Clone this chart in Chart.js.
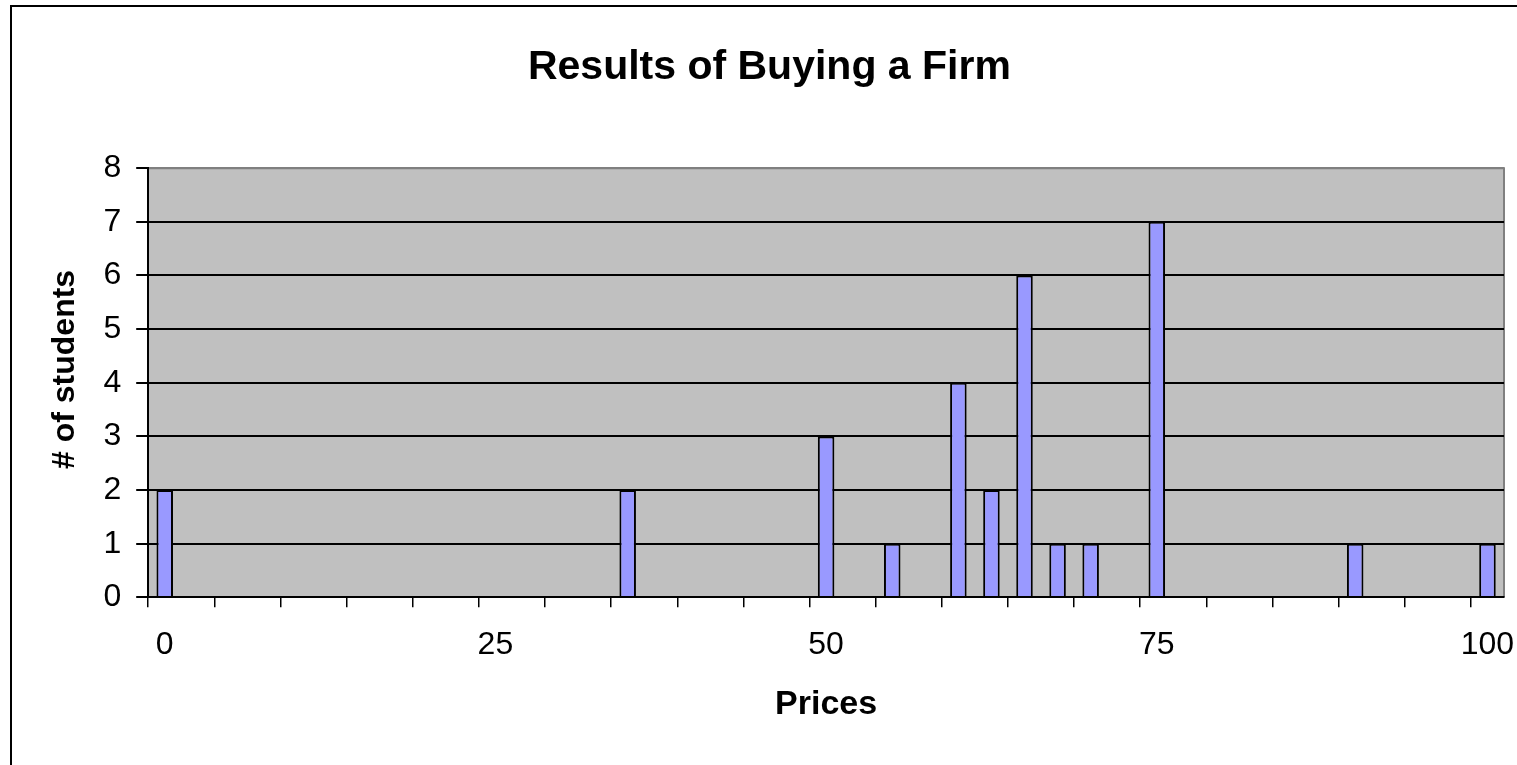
<!DOCTYPE html>
<html>
<head>
<meta charset="utf-8">
<title>Results of Buying a Firm</title>
<script src="https://cdn.jsdelivr.net/npm/chart.js@4.4.1/dist/chart.umd.min.js"></script>
<style>
  html, body { margin: 0; padding: 0; background: #fff; }
  canvas { display: block; }
</style>
</head>
<body>
<canvas id="myChart" width="1517" height="765"></canvas>
<script>
// price categories on the x axis (step of 2.5)
const priceCategories = ['0', '2.5', '5', '7.5', '10', '12.5', '15', '17.5', '20', '22.5',
    '25', '27.5', '30', '32.5', '35', '37.5', '40', '42.5', '45', '47.5',
    '50', '52.5', '55', '57.5', '60', '62.5', '65', '67.5', '70', '72.5',
    '75', '77.5', '80', '82.5', '85', '87.5', '90', '92.5', '95', '97.5', '100'];

// # of students per price
const studentCounts = [2, 0, 0, 0, 0, 0, 0, 0, 0, 0,
    0, 0, 0, 0, 2, 0, 0, 0, 0, 0,
    3, 0, 1, 0, 4, 2, 6, 1, 1, 0,
    7, 0, 0, 0, 0, 0, 1, 0, 0, 0, 1];

// only these get a label under the axis
const tickLabels = ['0', '25', '50', '75', '100'];

const yTicks = [0, 1, 2, 3, 4, 5, 6, 7, 8];

Chart.defaults.font.family = "'Liberation Sans', Arial, sans-serif";
Chart.defaults.color = '#000';

// white page, outer frame, grey plot area
const plotBg = {
    id: 'plotBg',
    beforeDraw(chart) {
        const ctx = chart.ctx;
        const a = chart.chartArea;
        ctx.save();
        ctx.fillStyle = '#fff';
        ctx.fillRect(0, 0, chart.width, chart.height);
        ctx.strokeStyle = '#000';
        ctx.lineWidth = 2;
        ctx.beginPath();
        ctx.moveTo(11, chart.height + 5);
        ctx.lineTo(11, 6);
        ctx.lineTo(chart.width + 5, 6);
        ctx.stroke();
        ctx.fillStyle = '#c0c0c0';
        ctx.fillRect(a.left, a.top, a.right - a.left, a.bottom - a.top);
        ctx.strokeStyle = '#808080';
        ctx.beginPath();
        ctx.moveTo(a.left, a.top);
        ctx.lineTo(a.right, a.top);
        ctx.lineTo(a.right, a.bottom);
        ctx.stroke();
        ctx.restore();
    }
};

const ctx = document.getElementById('myChart').getContext('2d');

const data = {
    labels: priceCategories,
    datasets: [{
        label: '# of students',
        data: studentCounts,
        backgroundColor: '#9999ff',
        borderColor: '#000',
        borderWidth: 2,
        barPercentage: 0.5,
        categoryPercentage: 1.0
    }]
};

const config = {
    type: 'bar',
    data: data,
    plugins: [plotBg],
    options: {
        responsive: false,
        animation: false,
        layout: { padding: { left: 12, right: 13, top: 8, bottom: 10 } },
        plugins: {
            legend: { display: false },
            tooltip: { enabled: false },
            title: {
                display: true,
                text: '  Results of Buying a Firm',
                color: '#000',
                font: { size: 41, weight: 'bold' },
                padding: { top: 35, bottom: 76 }
            }
        },
        scales: {
            x: {
                offset: true,
                grid: {
                    offset: true,
                    drawOnChartArea: false,
                    tickLength: 10,
                    lineWidth: 1.5,
                    color: (c) => (c.index !== undefined && c.index % 2 === 0) ? '#000' : 'rgba(0,0,0,0)'
                },
                border: { color: '#000', width: 2, z: 1 },
                ticks: {
                    autoSkip: false,
                    maxRotation: 0,
                    minRotation: 0,
                    padding: 0,
                    color: '#000',
                    font: { size: 32, lineHeight: 2.34 },
                    callback: function (value) {
                        const l = this.getLabelForValue(value);
                        return tickLabels.includes(l) ? l : '';
                    }
                },
                title: {
                    display: true,
                    text: 'Prices',
                    color: '#000',
                    font: { size: 34, weight: 'bold' },
                    padding: { top: 2, bottom: 30 }
                }
            },
            y: {
                min: yTicks[0],
                max: yTicks[yTicks.length - 1],
                grid: {
                    lineWidth: 2,
                    tickLength: 12,
                    color: (c) => c.tick && c.tick.value === 8 ? '#808080' : '#000',
                    tickColor: '#000'
                },
                border: { color: '#000', width: 2 },
                ticks: {
                    stepSize: 1,
                    padding: 15,
                    color: '#000',
                    font: { size: 32 }
                },
                title: {
                    display: true,
                    text: '   # of students',
                    color: '#000',
                    font: { size: 32, weight: 'bold' },
                    padding: { top: 34, bottom: 4 }
                }
            }
        }
    }
};

const myChart = new Chart(ctx, config);
</script>
</body>
</html>
